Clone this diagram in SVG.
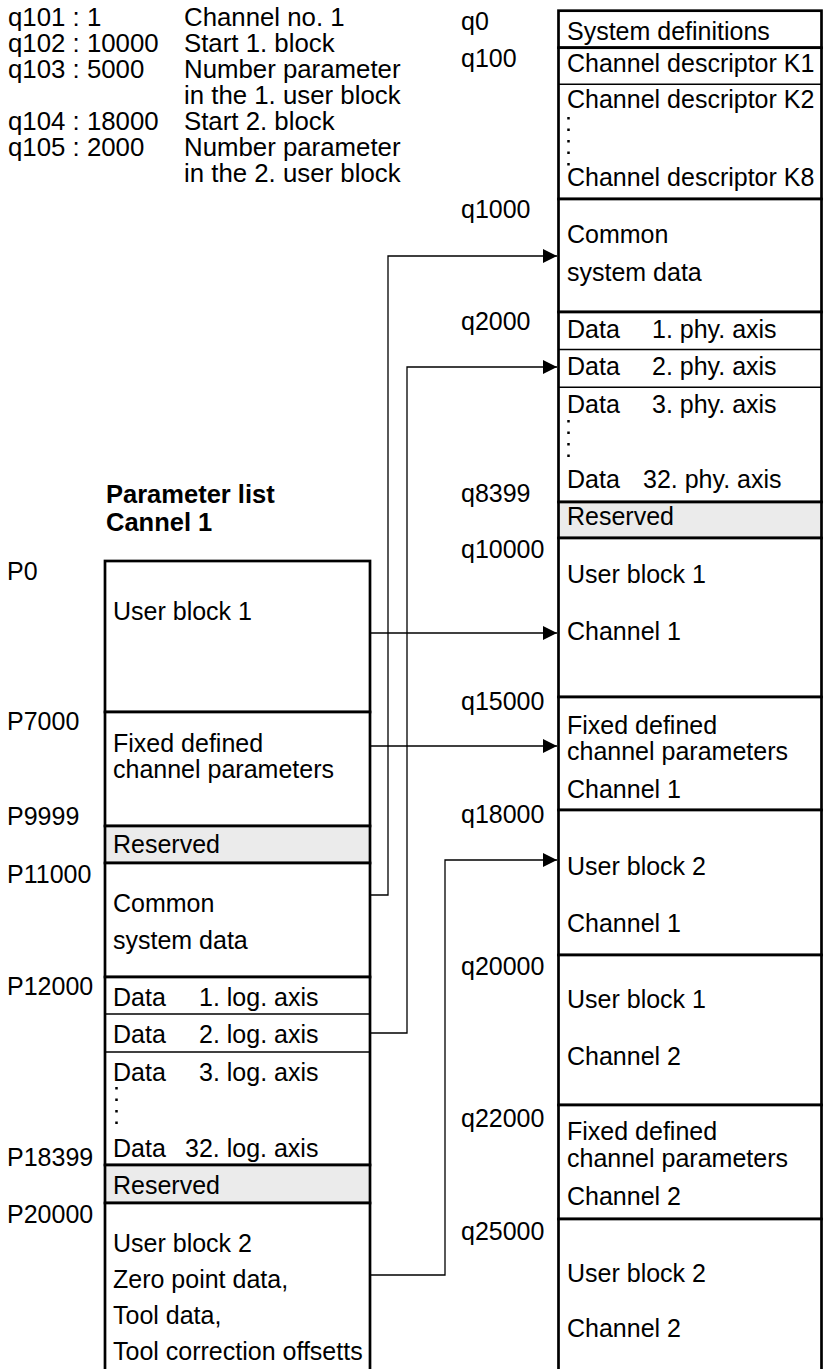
<svg xmlns="http://www.w3.org/2000/svg" width="823" height="1369" viewBox="0 0 823 1369">
<style>
text{font-family:"Liberation Sans",Arial,Helvetica,sans-serif;font-size:25px;fill:#000}
.lg{font-size:25.8px}
.b{font-weight:bold;font-size:25.5px}
.sec{fill:#fff;stroke:#000;stroke-width:2.7}
.res{fill:#ebebeb;stroke:#000;stroke-width:2.7}
.sub{stroke:#000;stroke-width:1.4}
.dots{stroke:#000;stroke-width:2.5;stroke-dasharray:2.5 9}
.conn{fill:none;stroke:#000;stroke-width:1.3}
</style>
<defs>
<marker id="arr" markerUnits="userSpaceOnUse" markerWidth="15" markerHeight="14" refX="14" refY="7" orient="auto">
<path d="M0,0 L14,7 L0,14 Z" fill="#000"/>
</marker>
</defs>
<rect width="823" height="1369" fill="#fff"/>

<g id="legend" class="lg">
<text class="lg" x="8" y="26">q101 : 1</text>
<text class="lg" x="8" y="52">q102 : 10000</text>
<text class="lg" x="8" y="78">q103 : 5000</text>
<text class="lg" x="8" y="130">q104 : 18000</text>
<text class="lg" x="8" y="156">q105 : 2000</text>
<text class="lg" x="184" y="26">Channel no. 1</text>
<text class="lg" x="184" y="52">Start 1. block</text>
<text class="lg" x="184" y="78">Number parameter</text>
<text class="lg" x="184" y="104">in the 1. user block</text>
<text class="lg" x="184" y="130">Start 2. block</text>
<text class="lg" x="184" y="156">Number parameter</text>
<text class="lg" x="184" y="182">in the 2. user block</text>
</g>

<g id="q-labels">
<text x="461" y="30">q0</text>
<text x="461" y="67">q100</text>
<text x="461" y="218">q1000</text>
<text x="461" y="330">q2000</text>
<text x="461" y="502">q8399</text>
<text x="461" y="558">q10000</text>
<text x="461" y="710">q15000</text>
<text x="461" y="823">q18000</text>
<text x="461" y="975">q20000</text>
<text x="461" y="1127">q22000</text>
<text x="461" y="1240">q25000</text>
</g>

<g id="r-sysdef">
<rect class="sec" x="558.5" y="10.7" width="263" height="37"/>
<text x="567" y="40">System definitions</text>
</g>
<g id="r-chdesc">
<rect class="sec" x="558.5" y="47.7" width="263" height="151.3"/>
<line class="sub" x1="558.5" y1="84.3" x2="821.5" y2="84.3"/>
<text x="567" y="72">Channel descriptor K1</text>
<text x="567" y="108">Channel descriptor K2</text>
<line class="dots" x1="568.5" y1="117" x2="568.5" y2="170"/>
<text x="567" y="186">Channel descriptor K8</text>
</g>
<g id="r-common">
<rect class="sec" x="558.5" y="199" width="263" height="113"/>
<text x="567" y="243">Common</text>
<text x="567" y="281">system data</text>
</g>
<g id="r-axes">
<rect class="sec" x="558.5" y="312" width="263" height="190"/>
<line class="sub" x1="558.5" y1="349.5" x2="821.5" y2="349.5"/>
<line class="sub" x1="558.5" y1="387.3" x2="821.5" y2="387.3"/>
<text x="567" y="338">Data</text><text x="652" y="338">1. phy. axis</text>
<text x="567" y="375">Data</text><text x="652" y="375">2. phy. axis</text>
<text x="567" y="413">Data</text><text x="652" y="413">3. phy. axis</text>
<line class="dots" x1="568.5" y1="420" x2="568.5" y2="466"/>
<text x="567" y="488">Data</text><text x="643" y="488">32. phy. axis</text>
</g>
<g id="r-reserved">
<rect class="res" x="558.5" y="502" width="263" height="36"/>
<text x="567" y="525">Reserved</text>
</g>
<g id="r-ub1-ch1">
<rect class="sec" x="558.5" y="538" width="263" height="159"/>
<text x="567" y="583">User block 1</text>
<text x="567" y="640">Channel 1</text>
</g>
<g id="r-fixed-ch1">
<rect class="sec" x="558.5" y="697" width="263" height="113"/>
<text x="567" y="734">Fixed defined</text>
<text x="567" y="760">channel parameters</text>
<text x="567" y="798">Channel 1</text>
</g>
<g id="r-ub2-ch1">
<rect class="sec" x="558.5" y="810" width="263" height="145"/>
<text x="567" y="875">User block 2</text>
<text x="567" y="932">Channel 1</text>
</g>
<g id="r-ub1-ch2">
<rect class="sec" x="558.5" y="955" width="263" height="150"/>
<text x="567" y="1008">User block 1</text>
<text x="567" y="1065">Channel 2</text>
</g>
<g id="r-fixed-ch2">
<rect class="sec" x="558.5" y="1105" width="263" height="114"/>
<text x="567" y="1140">Fixed defined</text>
<text x="567" y="1167">channel parameters</text>
<text x="567" y="1205">Channel 2</text>
</g>
<g id="r-ub2-ch2">
<rect class="sec" x="558.5" y="1219" width="263" height="170"/>
<text x="567" y="1282">User block 2</text>
<text x="567" y="1337">Channel 2</text>
</g>

<g id="title">
<text class="b" x="106" y="503">Parameter list</text>
<text class="b" x="106" y="531">Cannel 1</text>
</g>

<g id="p-labels">
<text x="7" y="580">P0</text>
<text x="7" y="730">P7000</text>
<text x="7" y="825">P9999</text>
<text x="7" y="883">P11000</text>
<text x="7" y="995">P12000</text>
<text x="7" y="1166">P18399</text>
<text x="7" y="1223">P20000</text>
</g>

<g id="l-ub1">
<rect class="sec" x="105" y="561" width="265" height="151"/>
<text x="113" y="620">User block 1</text>
</g>
<g id="l-fixed">
<rect class="sec" x="105" y="712" width="265" height="114"/>
<text x="113" y="752">Fixed defined</text>
<text x="113" y="778">channel parameters</text>
</g>
<g id="l-reserved1">
<rect class="res" x="105" y="826" width="265" height="37"/>
<text x="113" y="853">Reserved</text>
</g>
<g id="l-common">
<rect class="sec" x="105" y="863" width="265" height="114"/>
<text x="113" y="912">Common</text>
<text x="113" y="949">system data</text>
</g>
<g id="l-axes">
<rect class="sec" x="105" y="977" width="265" height="188"/>
<line class="sub" x1="105" y1="1014" x2="370" y2="1014"/>
<line class="sub" x1="105" y1="1052" x2="370" y2="1052"/>
<text x="113" y="1006">Data</text><text x="199" y="1006">1. log. axis</text>
<text x="113" y="1043">Data</text><text x="199" y="1043">2. log. axis</text>
<text x="113" y="1081">Data</text><text x="199" y="1081">3. log. axis</text>
<line class="dots" x1="116.5" y1="1087" x2="116.5" y2="1130"/>
<text x="113" y="1157">Data</text><text x="185" y="1157">32. log. axis</text>
</g>
<g id="l-reserved2">
<rect class="res" x="105" y="1165" width="265" height="38"/>
<text x="113" y="1194">Reserved</text>
</g>
<g id="l-ub2">
<rect class="sec" x="105" y="1203" width="265" height="190"/>
<text x="113" y="1252">User block 2</text>
<text x="113" y="1288">Zero point data,</text>
<text x="113" y="1324">Tool data,</text>
<text x="113" y="1360">Tool correction offsetts</text>
</g>

<g id="connectors">
<path class="conn" d="M371,895 H388 V256 H557" marker-end="url(#arr)"/>
<path class="conn" d="M371,1033 H407 V367 H557" marker-end="url(#arr)"/>
<path class="conn" d="M371,633 H557" marker-end="url(#arr)"/>
<path class="conn" d="M371,746 H557" marker-end="url(#arr)"/>
<path class="conn" d="M371,1275 H445 V860 H557" marker-end="url(#arr)"/>
</g>
</svg>
